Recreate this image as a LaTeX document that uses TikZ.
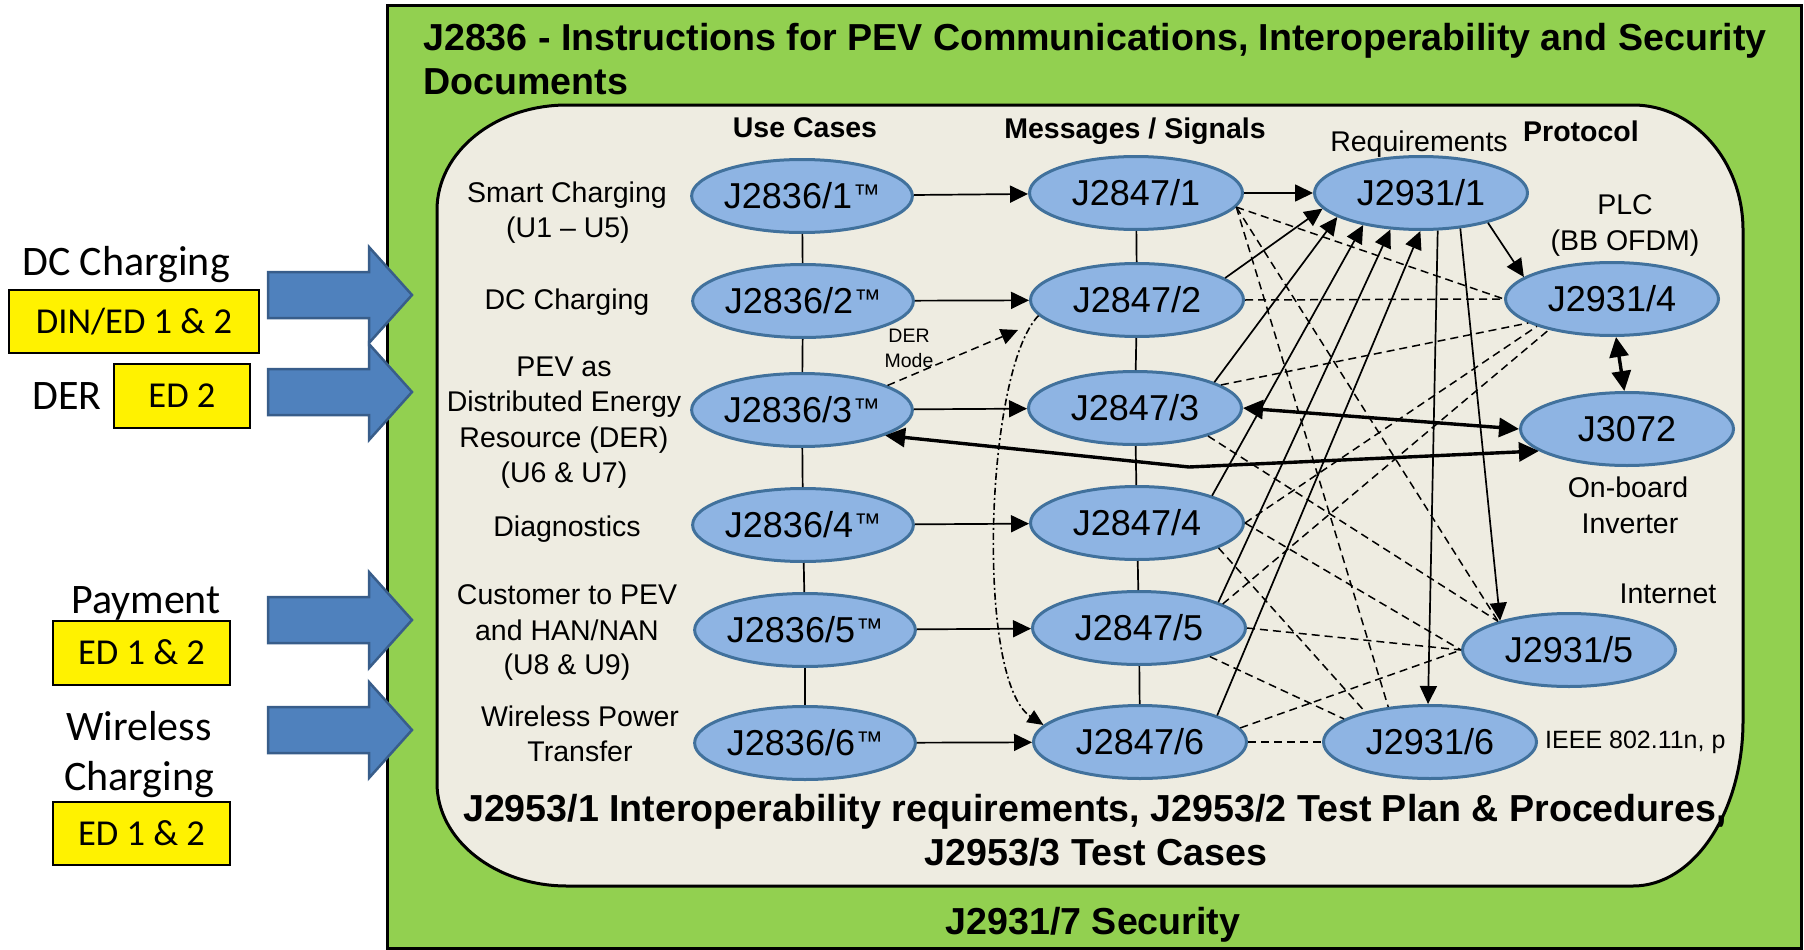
\documentclass[tikz,border=0pt]{standalone}
\usepackage{fontspec}
\setmainfont{Liberation Sans}
\newfontfamily\calfont{Carlito}
\usetikzlibrary{shapes.geometric,arrows.meta}
\definecolor{bggreen}{HTML}{92D050}
\definecolor{panel}{HTML}{EEECE1}
\definecolor{ellfill}{HTML}{8EB4E3}
\definecolor{ellline}{HTML}{41719C}
\definecolor{blkfill}{HTML}{4F81BD}
\definecolor{blkline}{HTML}{385D8A}
\newcommand{\fsz}[1]{\fontsize{#1pt}{#1pt}\selectfont}
\newcommand{\tmark}{\kern1pt\raisebox{5pt}{\fsz{27}™}}

\begin{document}
\begin{tikzpicture}[x=1pt,y=-1pt,
  ell/.style={ellipse, draw=ellline, fill=ellfill, line width=3pt,
    minimum width=213pt, minimum height=73pt, inner sep=0pt,
    font=\fsz{36}, text height=25.8pt, text depth=0pt},
  lbl/.style={anchor=base, inner sep=0pt, font=\fsz{28.5}},
  hdr/.style={anchor=base, inner sep=0pt, font=\fsz{28.5}\bfseries},
  big/.style={anchor=base, inner sep=0pt, font=\fsz{37.6}\bfseries},
  side/.style={anchor=base, inner sep=0pt, font=\calfont\fsz{42}},
  tagbox/.style={draw=black, line width=2.2pt, fill=yellow, inner sep=0pt,
    font=\calfont\fsz{36.5}, text height=23pt, text depth=0pt},
  blockarrow/.style={fill=blkfill, draw=blkline, line width=2.5pt, line join=miter},
  link/.style={line width=1.7pt},
  sarrow/.style={line width=1.7pt, -{Triangle[length=18pt,width=17pt]}},
  dlink/.style={line width=1.5pt, dash pattern=on 8pt off 5pt},
  heavy/.style={line width=3.4pt,
    {Triangle[length=20pt,width=19pt]}-{Triangle[length=20pt,width=19pt]}},
]
\useasboundingbox (0,0) rectangle (1804,950);

% outer green frame
\draw[fill=bggreen, line width=3pt] (387,6) rectangle (1801,948);

% feature labels and block arrows on the left
\node[side] (dcl) at (126,275) {DC Charging};
\node[tagbox, minimum width=250pt, minimum height=63pt] (dcbox) at (134,321.5) {DIN/ED 1 \& 2};
\node[side] (derl) at (67,409) {DER};
\node[tagbox, minimum width=136pt, minimum height=64pt] (derbox) at (182,396) {ED 2};
\node[side] (payl) at (146,613) {Payment};
\node[tagbox, minimum width=177pt, minimum height=64pt] (paybox) at (141.5,653) {ED 1 \& 2};
\node[side] (wl1) at (139,740) {Wireless};
\node[side] (wl2) at (139,790) {Charging};
\node[tagbox, minimum width=177pt, minimum height=63pt] (wbox) at (141.5,833.5) {ED 1 \& 2};

\foreach \c in {295,392,620,730}
  \draw[blockarrow] (268,{\c-23}) -- (369,{\c-23}) -- (369,{\c-48}) -- (412,\c)
    -- (369,{\c+48}) -- (369,{\c+23}) -- (268,{\c+23}) -- cycle;

% titles on the green frame
\node[big, anchor=base west] (title1) at (423,51) {J2836 - Instructions for PEV Communications, Interoperability and Security};
\node[big, anchor=base west] (title2) at (423,95) {Documents};

% inner panel with unequal rounded corners
\draw[fill=panel, line width=3pt] (567,105) -- (1633,105)
  .. controls (1693.8,105) and (1743,161) .. (1743,230) -- (1743,721)
  .. controls (1743,812.1) and (1693.8,886) .. (1633,886) -- (567,886)
  .. controls (495.2,886) and (437,839.9) .. (437,783) -- (437,210)
  .. controls (437,152) and (495.2,105) .. (567,105) -- cycle;

\node[big] (std1) at (1095,821) {J2953/1 Interoperability requirements, J2953/2 Test Plan \& Procedures,};
\node[big] (std2) at (1096,865) {J2953/3 Test Cases};
\node[big] (sec) at (1093,934) {J2931/7 Security};

% column headings
\node[hdr] (huc) at (805,137) {Use Cases};
\node[hdr] (hms) at (1135,138) {Messages / Signals};
\node[lbl] (hrq) at (1419,151) {Requirements};
\node[hdr] (hpr) at (1581,141) {Protocol};

% use case descriptions
\node[lbl] (d1a) at (567,202) {Smart Charging};
\node[lbl] (d1b) at (568,237) {(U1 – U5)};
\node[lbl] (d2a) at (567,309) {DC Charging};
\node[lbl] (d3a) at (564,376) {PEV as};
\node[lbl] (d3b) at (564,411) {Distributed Energy};
\node[lbl] (d3c) at (564,447) {Resource (DER)};
\node[lbl] (d3d) at (564,482) {(U6 \& U7)};
\node[lbl] (d4a) at (567,536) {Diagnostics};
\node[lbl] (d5a) at (567,604) {Customer to PEV};
\node[lbl] (d5b) at (567,640) {and HAN/NAN};
\node[lbl] (d5c) at (567,674) {(U8 \& U9)};
\node[lbl] (d6a) at (580,726) {Wireless Power};
\node[lbl] (d6b) at (580,761) {Transfer};

% protocol notes
\node[lbl] (plc1) at (1625,214) {PLC};
\node[lbl] (plc2) at (1625,250) {(BB OFDM)};
\node[lbl] (obi1) at (1628,497) {On-board};
\node[lbl] (obi2) at (1630,533) {Inverter};
\node[lbl] (inet) at (1668,603) {Internet};
\node[lbl, anchor=base west, font=\fsz{25}] (ieee) at (1545,748) {IEEE 802.11n, p};
\node[lbl, font=\fsz{19.5}] (derm1) at (909,342) {DER};
\node[lbl, font=\fsz{19.5}] (derm2) at (909,367) {Mode};

% document ellipses
\node[ell] (u1) at (802,196) {J2836/1\tmark};
\node[ell] (u2) at (803,301) {J2836/2\tmark};
\node[ell] (u3) at (802,410) {J2836/3\tmark};
\node[ell] (u4) at (803,525) {J2836/4\tmark};
\node[ell] (u5) at (805,630) {J2836/5\tmark};
\node[ell] (u6) at (805,743) {J2836/6\tmark};
\node[ell] (m1) at (1136,193) {J2847/1};
\node[ell] (m2) at (1137,300) {J2847/2};
\node[ell] (m3) at (1135,408) {J2847/3};
\node[ell] (m4) at (1137,523) {J2847/4};
\node[ell] (m5) at (1139,628) {J2847/5};
\node[ell] (m6) at (1140,742) {J2847/6};
\node[ell] (r1) at (1421,193) {J2931/1};
\node[ell] (r4) at (1612,299) {J2931/4};
\node[ell] (inv) at (1627,429) {J3072};
\node[ell] (r5) at (1569,650) {J2931/5};
\node[ell] (r6) at (1430,742) {J2931/6};

% column links
\foreach \a/\b in {1/2,2/3,3/4,4/5,5/6} {
  \draw[link] (u\a) -- (u\b);
  \draw[link] (m\a) -- (m\b);
}
\foreach \k in {1,...,6}
  \draw[sarrow] (u\k) -- (m\k);
\draw[sarrow] (m1) -- (r1);

% messages feeding the requirements
\draw[sarrow] (m2.14) -- (r1.189);
\draw[sarrow] (m3.18) -- (r1.196);
\draw[sarrow] (m4.20) -- (r1.209);
\draw[sarrow] (m5.18) -- (r1.230);
\draw[sarrow] (m6.19) -- (r1.269);

% requirements to protocols
\draw[sarrow] (r1.336) -- (r4.166);
\draw[sarrow] (r1.294) -- (r6.93);
\draw[sarrow] (r1.318) -- (r5.157);

% inverter links
\draw[heavy] (r4.276) -- (inv.94);
\draw[heavy] (m3.east) -- (inv.west);
\coordinate (bend) at (1189,467);
\draw[heavy] (u3.343) -- (bend) -- (inv.194);

% messages to protocols
\draw[dlink] (m1.352) -- (r4.west);
\draw[dlink] (m1.352) -- (r6.140);
\draw[dlink] (m1.352) -- (r5.158);
\draw[dlink] (m2.east) -- (r4.west);
\draw[dlink] (m3.15) -- (r4.196);
\draw[dlink] (m4.east) -- (r4.200);
\draw[dlink] (m5.16) -- (r4.206);
\draw[dlink] (m3.339) -- (r5.158);
\draw[dlink] (m4.east) -- (r5.west);
\draw[dlink] (m4.343) -- (r6.155);
\draw[dlink] (m5.east) -- (r5.west);
\draw[dlink] (m5.338) -- (r6.165);
\draw[dlink] (m6.8) -- (r5.west);
\draw[dlink] (m6.east) -- (r6.west);

% DER mode and wireless message paths
\coordinate (dertip) at (1018,330);
\draw[dlink, -{Triangle[length=17pt,width=16pt]}] (u3.16) -- (dertip);
\draw[line width=1.6pt, dash pattern=on 7pt off 3pt on 2pt off 3pt,
  -{Triangle[length=16pt,width=14pt]}]
  (m2.189) .. controls (985,370) and (975,680) .. (m6.170);
\end{tikzpicture}
\end{document}
